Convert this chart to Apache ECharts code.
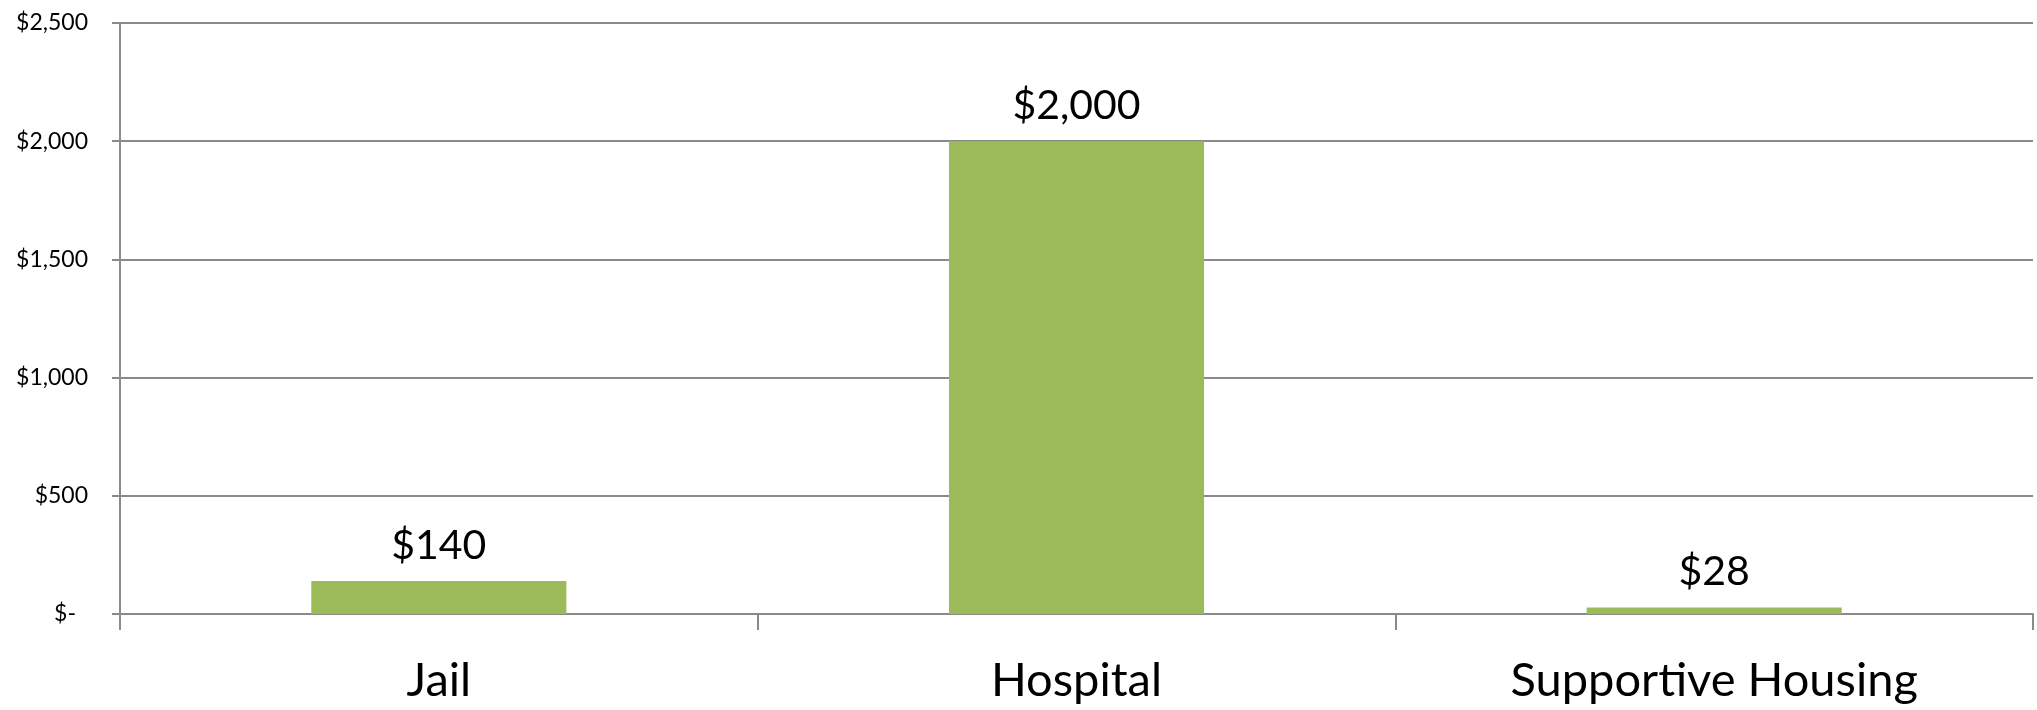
<!DOCTYPE html>
<html>
<head>
<meta charset="utf-8">
<script src="https://cdn.jsdelivr.net/npm/echarts@6/dist/echarts.min.js"></script>
<style>
html,body{margin:0;padding:0;background:#fff;}
#chart{width:2037px;height:710px;}
</style>
</head>
<body>
<div id="chart"></div>
<script>
const categories = ['Jail', 'Hospital', 'Supportive Housing'];
const costs = [140, 2000, 28];
const yMin = 0, yMax = 2500, yStep = 500;

function money(v) {
  return '$' + Math.round(v).toLocaleString('en-US');
}

const chart = echarts.init(document.getElementById('chart'));
chart.setOption({
  animation: false,
  backgroundColor: '#ffffff',
  textStyle: { fontFamily: 'Lato' },
  grid: { left: 120, right: 4, top: 23, bottom: 96, containLabel: false },
  xAxis: {
    type: 'category',
    data: categories,
    axisLine: { lineStyle: { color: '#8a8a8a', width: 2 } },
    axisTick: { show: true, length: 16, lineStyle: { color: '#8a8a8a', width: 2 } },
    axisLabel: { color: '#000', fontSize: 47, fontFamily: 'Lato', margin: 43 }
  },
  yAxis: {
    type: 'value',
    min: yMin, max: yMax, interval: yStep,
    axisLine: { show: true, lineStyle: { color: '#8a8a8a', width: 2 } },
    axisTick: { show: true, length: 8, lineStyle: { color: '#8a8a8a', width: 2 } },
    splitLine: { show: true, lineStyle: { color: '#8a8a8a', width: 2 } },
    axisLabel: {
      color: '#000', fontSize: 23, fontFamily: 'Lato', margin: 32,
      formatter: function (v) { return v === 0 ? '{z|$-}' : money(v); },
      rich: { z: { fontSize: 23, fontFamily: 'Lato', color: '#000', padding: [0, 12, 0, 0] } }
    }
  },
  series: [{
    type: 'bar',
    data: costs,
    barWidth: '40%',
    itemStyle: { color: '#9BBB59' },
    label: {
      show: true, position: 'top', distance: 15,
      color: '#000', fontSize: 41, fontFamily: 'Lato',
      formatter: function (p) { return money(p.value); }
    }
  }]
});
</script>
</body>
</html>
